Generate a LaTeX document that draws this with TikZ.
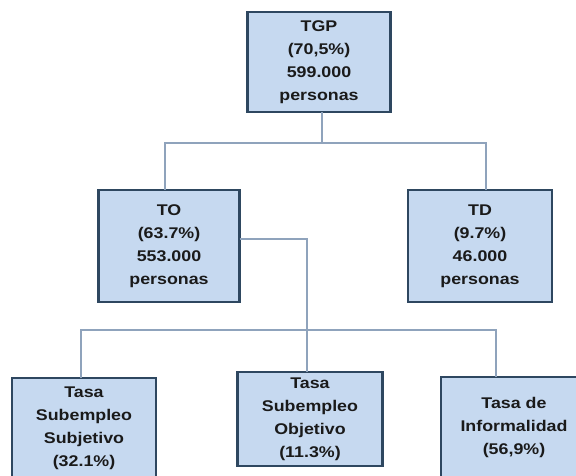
\documentclass[tikz,border=0pt]{standalone}
\usepackage{fontspec}
\usepackage{xcolor}
\usepackage{tikz}
\usetikzlibrary{positioning,calc}
\newfontfamily\boxfont{Liberation Sans}[FakeStretch=1.15]
\definecolor{boxfill}{HTML}{C6D9F0}
\definecolor{boxline}{HTML}{2E4760}
\definecolor{linkgray}{HTML}{8FA3BC}
\definecolor{txt}{HTML}{1A1A1A}

\begin{document}
\begin{tikzpicture}[x=1pt,y=-1pt,
  box/.style={draw=boxline, fill=boxfill, line width=2.6pt, align=center,
    inner sep=0pt, outer sep=0pt, text=txt,
    font=\boxfont\bfseries\fontsize{15.5}{23}\selectfont},
  link/.style={draw=linkgray, line width=1.4pt}]
  \useasboundingbox (0,0) rectangle (576,476);

  \node(TGP)[box, minimum width=143pt, minimum height=100pt] at (319,62) {TGP\\(70,5\%)\\599.000\\personas};

  \node(TO)[box, minimum width=141pt, minimum height=112pt] at (169,246) {TO\\(63.7\%)\\553.000\\personas};
  \node(TD)[box, minimum width=144pt, minimum height=112pt] at (480,246) {TD\\(9.7\%)\\46.000\\personas};

  \node(SS)[box, minimum width=144pt, minimum height=100pt] at (84,428) {Tasa\\Subempleo\\Subjetivo\\(32.1\%)};
  \node(SO)[box, minimum width=145pt, minimum height=94pt] at (310,419) {Tasa\\Subempleo\\Objetivo\\(11.3\%)};
  \node(IN)[box, minimum width=146pt, minimum height=100pt] at (514,427) {Tasa de\\Informalidad\\(56,9\%)};

  \coordinate (j1) at (322,143);
  \coordinate (j2) at (307,330);

  \draw[link] ([xshift=3pt]TGP.south) -- (j1);
  \draw[link] ([xshift=-4pt]TO.north) |- (j1) -| ([xshift=6pt]TD.north);

  \draw[link] ([yshift=7pt]TO.east) -| ([xshift=-3pt]SO.north);
  \draw[link] ([xshift=-3pt]SS.north) |- (j2) -| ([xshift=-18pt]IN.north);
\end{tikzpicture}
\end{document}
